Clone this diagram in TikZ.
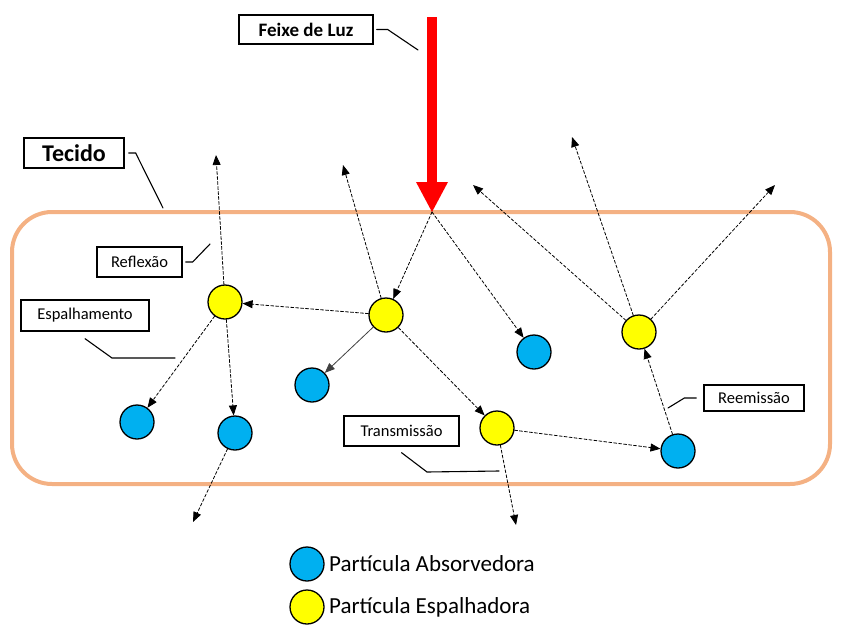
\documentclass[tikz,border=0pt]{standalone}
\usepackage{fontspec}
\setmainfont{Carlito}
\usetikzlibrary{arrows.meta, positioning}

\definecolor{absblue}{HTML}{00B0F0}
\definecolor{scatyellow}{HTML}{FFFF00}
\definecolor{tissueorange}{HTML}{F4B183}

\begin{document}
\begin{tikzpicture}[x=1pt,y=-1pt,line cap=round,
    absorv/.style={circle,draw,line width=1.3pt,fill=absblue,minimum size=34pt,inner sep=0pt},
    espalh/.style={circle,draw,line width=1.3pt,fill=scatyellow,minimum size=34pt,inner sep=0pt},
    tag/.style={draw,line width=1.3pt,inner sep=0pt,font=\fontsize{16.5}{18}\selectfont},
    leader/.style={line width=1.1pt},
    ray/.style={line width=0.8pt,dash pattern=on 3pt off 2pt,-{Triangle[length=10pt,width=8pt]}},
    solidray/.style={line width=0.8pt,draw=black!75,-{Triangle[length=10pt,width=8pt]}}]

    \useasboundingbox (0,0) rectangle (842,626);

    % tecido
    \draw[tissueorange,line width=4pt,rounded corners=40pt] (12,212) rectangle (830,484);

    % feixe de luz
    \fill[red] (427,17) rectangle (437,182);
    \fill[red] (416,182) -- (448,182) -- (432,212) -- cycle;
    \coordinate (luz) at (432,212);

    % particulas
    \node[espalh] (y1) at (225,302) {};
    \node[espalh] (y2) at (386,315) {};
    \node[espalh] (y3) at (497,428) {};
    \node[espalh] (y4) at (639,332) {};
    \node[absorv] (b1) at (137,422) {};
    \node[absorv] (b2) at (235,433) {};
    \node[absorv] (b3) at (312,385) {};
    \node[absorv] (b4) at (534,352) {};
    \node[absorv] (b5) at (678,451) {};

    % saidas
    \coordinate (out1) at (216,155);
    \coordinate (out2) at (343,165);
    \coordinate (out3) at (473,185);
    \coordinate (out4) at (572,137);
    \coordinate (out5) at (775,185);
    \coordinate (out6) at (193,522);
    \coordinate (out7) at (516,525);

    \draw[ray] (luz) -- (y2);
    \draw[ray] (luz) -- (b4);
    \draw[ray] (y2) -- (y1);
    \draw[solidray] (y2) -- (b3);
    \draw[ray] (y2) -- (y3);
    \draw[ray] (y2) -- (out2);
    \draw[ray] (y1) -- (out1);
    \draw[ray] (y1) -- (b1);
    \draw[ray] (y1) -- (b2);
    \draw[ray] (b2) -- (out6);
    \draw[ray] (y3) -- (out7);
    \draw[ray] (y3) -- (b5);
    \draw[ray] (b5) -- (y4);
    \draw[ray] (y4) -- (out4);
    \draw[ray] (y4) -- (out5);
    \draw[ray] (y4) -- (out3);

    % rotulos
    \node[tag,minimum width=134pt,minimum height=29pt,font=\fontsize{19}{21}\selectfont\bfseries] (feixe) at (306,29.5) {Feixe de Luz};
    \node[tag,minimum width=100pt,minimum height=30pt,font=\fontsize{24}{26}\selectfont\bfseries] (tecido) at (74,153) {Tecido};
    \node[tag,minimum width=85pt,minimum height=30pt] (reflexao) at (139.5,262) {Reflexão};
    \node[tag,minimum width=128pt,minimum height=31pt] (espalhamento) at (85,315.5) {Espalhamento};
    \node[tag,minimum width=115pt,minimum height=30pt] (transmissao) at (401.5,431) {Transmissão};
    \node[tag,minimum width=100pt,minimum height=26pt] (reemissao) at (754,398) {Reemissão};

    \coordinate (feixept) at (418,50);
    \coordinate (tecidopt) at (163,208);
    \coordinate (reflexaopt) at (210,244);
    \coordinate (espalhpt) at (175,358);
    \coordinate (transmpt) at (499,471);
    \coordinate (reemispt) at (668,408);

    \draw[leader] ([xshift=3pt]feixe.east) -- ++(11,0) -- (feixept);
    \draw[leader] ([xshift=4pt]tecido.east) -- ++(7,0) -- (tecidopt);
    \draw[leader] ([xshift=3pt]reflexao.east) -- ++(7,0) -- (reflexaopt);
    \draw[leader] ([yshift=-7pt]espalhamento.south) -- (112,358) -- (espalhpt);
    \draw[leader] ([yshift=-6pt]transmissao.south) -- (427,472) -- (transmpt);
    \draw[leader] ([xshift=-7pt]reemissao.west) -- ++(-12,0) -- (reemispt);

    % legenda
    \node[absorv] (legabs) at (307,564) {};
    \node[espalh] (legesp) at (307,607) {};
    \node[right=1pt of legabs,font=\fontsize{23}{25}\selectfont] (legabstxt) {Partícula Absorvedora};
    \node[right=1pt of legesp,font=\fontsize{23}{25}\selectfont] (legesptxt) {Partícula Espalhadora};
\end{tikzpicture}
\end{document}
